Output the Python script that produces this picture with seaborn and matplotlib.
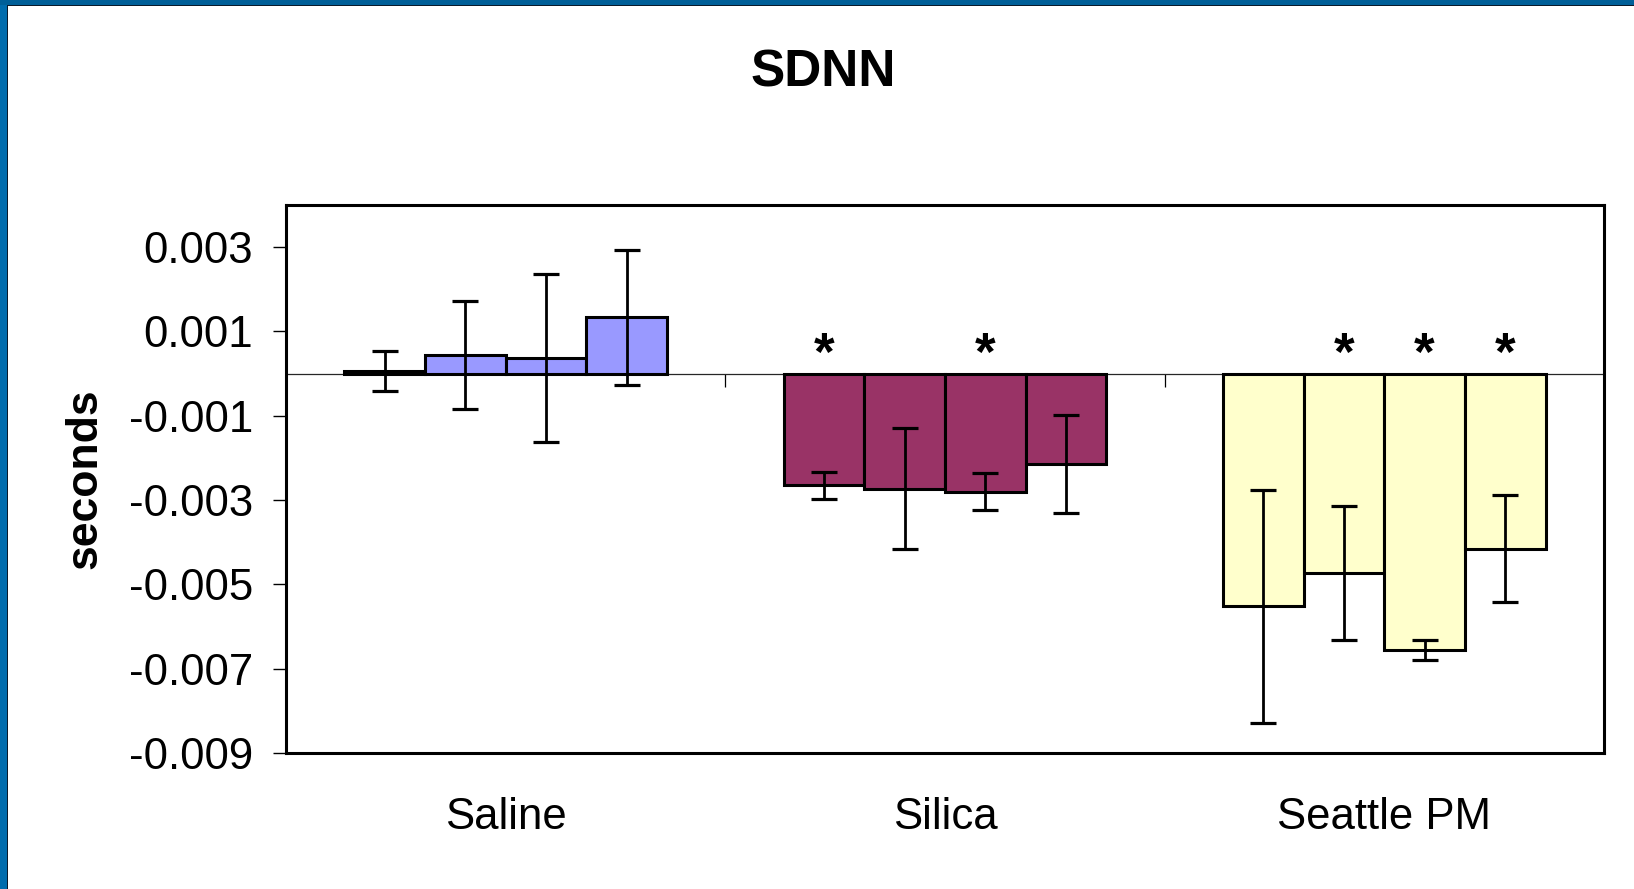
import numpy as np
import pandas as pd
import seaborn as sns
import matplotlib.pyplot as plt
from matplotlib.patches import Rectangle
from matplotlib.ticker import FuncFormatter

# values (seconds)
groups = ["Saline", "Silica", "Seattle PM"]
periods = ["P1", "P2", "P3", "P4"]
saline_mean = [0.00006, 0.00045, 0.00037, 0.00134]
saline_err = [0.00048, 0.00128, 0.00200, 0.00160]
silica_mean = [-0.00265, -0.00273, -0.00280, -0.00215]
silica_err = [0.00032, 0.00144, 0.00044, 0.00116]
seattle_mean = [-0.00552, -0.00473, -0.00656, -0.00415]
seattle_err = [0.00276, 0.00160, 0.00024, 0.00127]
significant = [
    [False, False, False, False],
    [True, False, True, False],
    [False, True, True, True],
]
group_colors = ["#9999FF", "#993366", "#FFFFCC"]
yticks = [-0.009, -0.007, -0.005, -0.003, -0.001, 0.001, 0.003]

means = [saline_mean, silica_mean, seattle_mean]
errs = [saline_err, silica_err, seattle_err]
df = pd.DataFrame(
    {
        "group": np.repeat(groups, len(periods)),
        "period": periods * len(groups),
        "value": np.concatenate(means),
        "err": np.concatenate(errs),
    }
)

sns.set_style("white")
plt.rcParams["font.family"] = ["Liberation Sans", "DejaVu Sans"]
plt.rcParams["axes.unicode_minus"] = False
plt.rcParams["text.color"] = "black"
plt.rcParams["axes.labelcolor"] = "black"
plt.rcParams["xtick.color"] = "black"
plt.rcParams["ytick.color"] = "black"

fig = plt.figure(figsize=(16.34, 8.89), dpi=100)
ax = fig.add_axes([0.175, 0.153, 0.8066, 0.6164])

sns.barplot(
    data=df,
    x="group",
    y="value",
    hue="period",
    order=groups,
    hue_order=periods,
    width=0.734,
    errorbar=None,
    legend=False,
    edgecolor="black",
    linewidth=2.2,
    ax=ax,
)

# colour by group, add error bars and stars
bar_containers = list(ax.containers)
for j, container in enumerate(bar_containers):
    for i, bar in enumerate(container.patches):
        bar.set_facecolor(group_colors[i])
        bar.set_alpha(1)
        cx = bar.get_x() + bar.get_width() / 2
        ax.errorbar(
            cx,
            means[i][j],
            yerr=errs[i][j],
            fmt="none",
            ecolor="black",
            elinewidth=2.0,
            capsize=9.5,
            capthick=2.3,
            zorder=5,
        )
        if significant[i][j]:
            ax.text(
                cx,
                0.00008,
                "*",
                ha="center",
                va="baseline",
                fontsize=38,
                fontweight="bold",
            )

ymin, ymax = -0.009, 0.004
ax.set_ylim(ymin, ymax)
ax.set_xlim(-0.5, len(groups) - 0.5)
ax.set_yticks(yticks)
ax.yaxis.set_major_formatter(FuncFormatter(lambda v, _: f"{v:.3f}"))
ax.tick_params(axis="y", direction="out", length=9.5, width=1.0, pad=14,
               labelsize=31.5, left=True)
ax.tick_params(axis="x", length=0, pad=32, labelsize=31.5)
ax.set_xlabel("")
ax.set_ylabel("seconds", fontsize=32, fontweight="bold", labelpad=17)

for spine in ax.spines.values():
    spine.set_visible(True)
    spine.set_linewidth(2.2)
    spine.set_color("black")

# category axis crossing at zero, ticks between categories
zero_ax = ax.secondary_xaxis((0 - ymin) / (ymax - ymin))
for side in ["top", "bottom"]:
    zero_ax.spines[side].set_linewidth(0.9)
zero_ax.set_xticks(np.arange(0.5, len(groups) - 1, 1.0), labels=[])
zero_ax.xaxis.set_ticks_position("bottom")
zero_ax.tick_params(direction="out", length=9.5, width=0.9,
                    labelbottom=False, labeltop=False)

fig.text(0.5037, 0.9025, "SDNN", ha="center", va="baseline",
         fontsize=37, fontweight="bold")

# slide frame on the top and left edges
fig.patches.append(Rectangle((0, 0), 7 / 1634, 1, transform=fig.transFigure,
                             facecolor="#006CAD", edgecolor="none"))
fig.patches.append(Rectangle((0, 1 - 5 / 889), 1, 5 / 889, transform=fig.transFigure,
                             facecolor="#005F98", edgecolor="none"))
fig.patches.append(Rectangle((7 / 1634, 0), 1 / 1634, 1 - 5 / 889,
                             transform=fig.transFigure, facecolor="#0A1A2A",
                             edgecolor="none"))
fig.patches.append(Rectangle((7 / 1634, 1 - 6 / 889), 1, 1 / 889,
                             transform=fig.transFigure, facecolor="#0A1A2A",
                             edgecolor="none"))

fig.savefig("out.png", dpi=100)
